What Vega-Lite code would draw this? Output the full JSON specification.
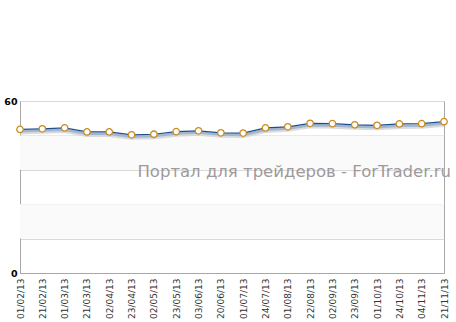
{
  "$schema": "https://vega.github.io/schema/vega-lite/v6.json",
  "autosize": {"type": "none"},
  "width": 424,
  "height": 172,
  "padding": {"left": 20, "top": 101, "right": 12, "bottom": 49},
  "background": "white",
  "config": {
    "view": {"stroke": "#a8a8a8", "strokeWidth": 1},
    "font": "DejaVu Sans"
  },
  "datasets": {
    "series": [
      {"date": "01/02/13", "value": 50.1},
      {"date": "21/02/13", "value": 50.3},
      {"date": "01/03/13", "value": 50.6},
      {"date": "21/03/13", "value": 49.2},
      {"date": "02/04/13", "value": 49.2},
      {"date": "23/04/13", "value": 48.2},
      {"date": "02/05/13", "value": 48.4},
      {"date": "23/05/13", "value": 49.3},
      {"date": "03/06/13", "value": 49.6},
      {"date": "20/06/13", "value": 48.9},
      {"date": "01/07/13", "value": 48.8},
      {"date": "24/07/13", "value": 50.6},
      {"date": "01/08/13", "value": 51.0},
      {"date": "22/08/13", "value": 52.2},
      {"date": "02/09/13", "value": 52.1},
      {"date": "23/09/13", "value": 51.7},
      {"date": "01/10/13", "value": 51.5},
      {"date": "24/10/13", "value": 52.0},
      {"date": "04/11/13", "value": 52.1},
      {"date": "21/11/13", "value": 52.8}
    ],
    "bands": [
      {"lo": 12, "hi": 24},
      {"lo": 36, "hi": 48}
    ],
    "watermark": [
      {"date": "21/11/13", "value": 35.2, "label": "Портал для трейдеров - ForTrader.ru"}
    ]
  },
  "encoding": {
    "x": {"field": "date", "type": "ordinal", "sort": null, "scale": {"type": "point", "padding": 0},
      "axis": {"title": null, "labelAngle": -90, "labelFontSize": 9, "labelColor": "#333333", "labelPadding": 5, "ticks": false, "domainColor": "#a8a8a8", "labelFont": "DejaVu Sans"}},
    "y": {"field": "value", "type": "quantitative", "scale": {"domain": [0, 60], "nice": false},
      "axis": {"title": null, "values": [0, 12, 24, 36, 48, 60], "labelExpr": "datum.value == 0 || datum.value == 60 ? datum.label : ''", "labelFontSize": 9.5, "labelFontWeight": "bold", "labelColor": "#000000", "labelPadding": 3, "ticks": false, "gridColor": "#d9d9d9", "domainColor": "#a8a8a8"}}
  },
  "layer": [
    {
      "data": {"name": "bands"},
      "mark": {"type": "rect", "fill": "#fafafa"},
      "encoding": {
        "x": null,
        "y": {"field": "lo", "type": "quantitative"},
        "y2": {"field": "hi"}
      }
    },
    {
      "data": {"name": "series"},
      "mark": {"type": "line", "stroke": "#cfd2d6", "strokeWidth": 3, "yOffset": 3.5, "opacity": 0.8}
    },
    {
      "data": {"name": "series"},
      "mark": {"type": "line", "stroke": "#a3b6cd", "strokeWidth": 2.5, "yOffset": 1.8}
    },
    {
      "data": {"name": "series"},
      "mark": {"type": "line", "stroke": "#1d4f8f", "strokeWidth": 1.2}
    },
    {
      "data": {"name": "series"},
      "mark": {"type": "point", "filled": true, "fill": "#ffffff", "stroke": "#cc8a1c", "strokeWidth": 1.3, "size": 42, "opacity": 1}
    },
    {
      "data": {"name": "watermark"},
      "mark": {"type": "text", "align": "right", "baseline": "middle", "dx": 7, "fontSize": 16.5, "color": "#a09999", "font": "DejaVu Sans"},
      "encoding": {
        "text": {"field": "label"}
      }
    }
  ]
}
